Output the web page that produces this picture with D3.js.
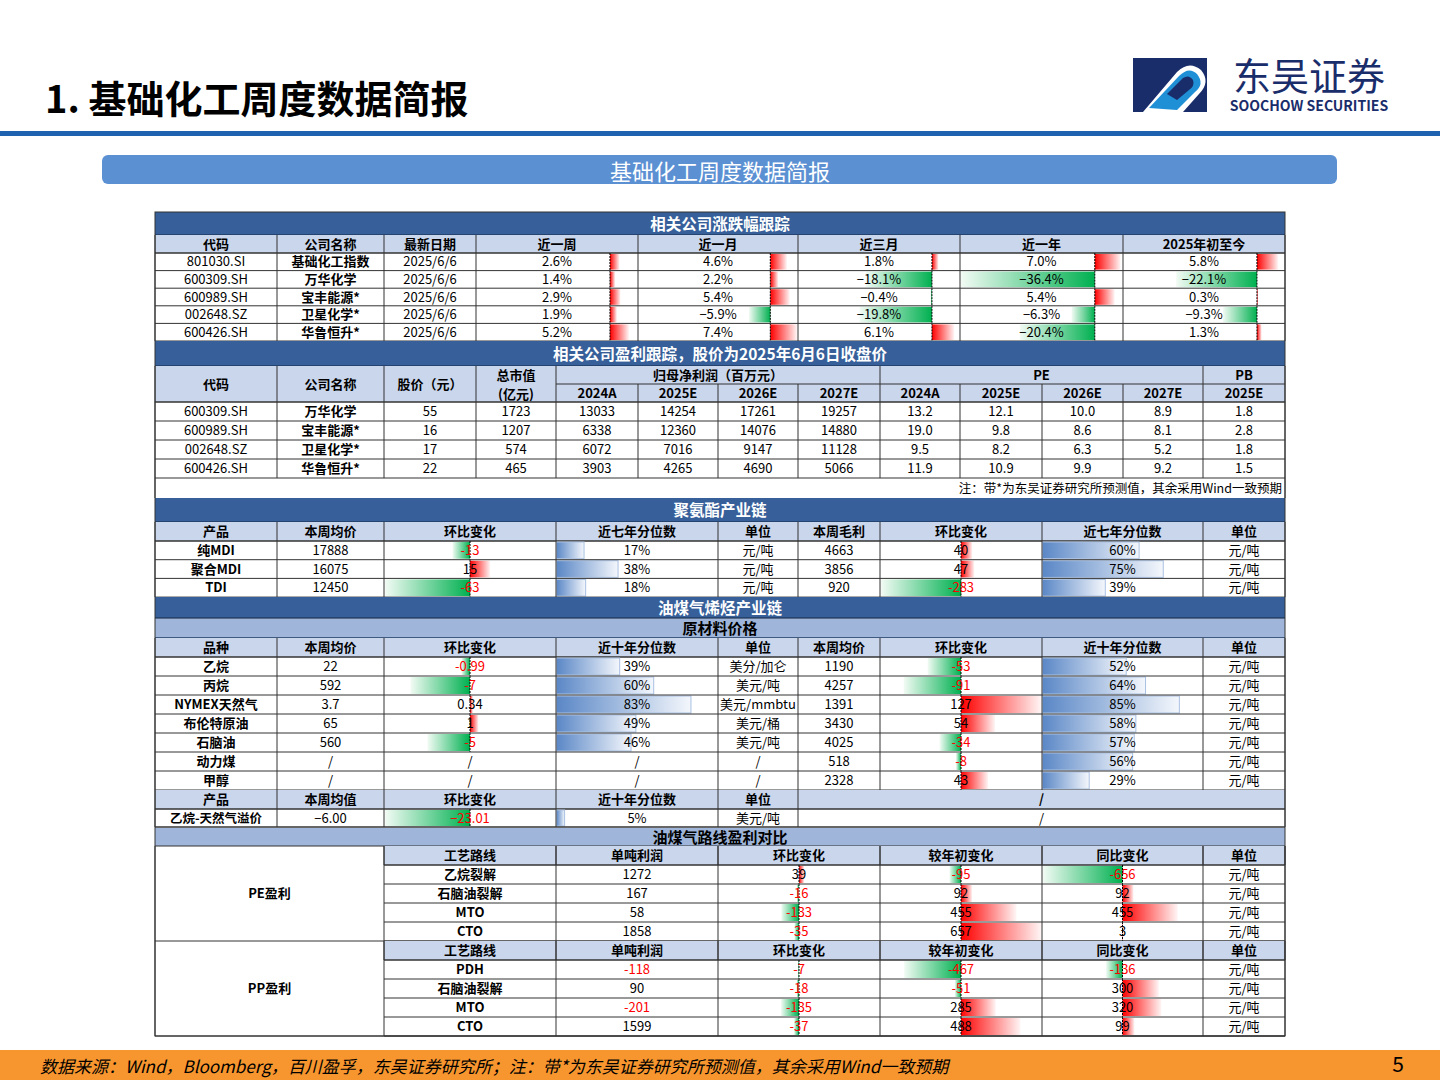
<!DOCTYPE html>
<meta charset="utf-8">
<title>基础化工周度数据简报</title>
<head>
<script src="https://cdnjs.cloudflare.com/ajax/libs/d3/7.8.5/d3.min.js"></script>
<style>
  body { margin:0; background:#fff; }
  svg text { font-family:"Noto Sans CJK SC","Noto Sans",sans-serif; }
</style>
</head>
<html>
<body>
<svg id="chart" width="1440" height="1080"></svg>
<script>
// ---- data ----
var codes1 = ["801030.SI","600309.SH","600989.SH","002648.SZ","600426.SH"];
var names1 = ["基础化工指数","万华化学","宝丰能源*","卫星化学*","华鲁恒升*"];
var chgWeek  = [2.6, 1.4, 2.9, 1.9, 5.2];
var chgMonth = [4.6, 2.2, 5.4, -5.9, 7.4];
var chg3M    = [1.8, -18.1, -0.4, -19.8, 6.1];
var chgYear  = [7.0, -36.4, 5.4, -6.3, -20.4];
var chgYtd   = [5.8, -22.1, 0.3, -9.3, 1.3];

var codes2 = ["600309.SH","600989.SH","002648.SZ","600426.SH"];
var names2 = ["万华化学","宝丰能源*","卫星化学*","华鲁恒升*"];
var price2 = [55, 16, 17, 22];
var mcap2  = [1723, 1207, 574, 465];
var np24 = [13033, 6338, 6072, 3903];
var np25 = [14254, 12360, 7016, 4265];
var np26 = [17261, 14076, 9147, 4690];
var np27 = [19257, 14880, 11128, 5066];
var pe24 = [13.2, 19.0, 9.5, 11.9];
var pe25 = [12.1, 9.8, 8.2, 10.9];
var pe26 = [10.0, 8.6, 6.3, 9.9];
var pe27 = [8.9, 8.1, 5.2, 9.2];
var pb25 = [1.8, 2.8, 1.8, 1.5];

var puProducts = ["纯MDI","聚合MDI","TDI"];
var puPrice  = [17888, 16075, 12450];
var puChg    = [-13, 15, -63];
var puPct    = [17, 38, 18];
var puMargin = [4663, 3856, 920];
var puMChg   = [40, 47, -283];
var puMPct   = [60, 75, 39];

var rawNames = ["乙烷","丙烷","NYMEX天然气","布伦特原油","石脑油","动力煤","甲醇"];
var rawPrice = ["22","592","3.7","65","560",null,null];
var rawChg   = [-0.99, -7, 0.34, 1, -5, null, null];
var rawPct   = [39, 60, 83, 49, 46, null, null];
var rawUnit  = ["美分/加仑","美元/吨","美元/mmbtu","美元/桶","美元/吨","/","/"];
var rawPrice2 = [1190, 4257, 1391, 3430, 4025, 518, 2328];
var rawChg2  = [-53, -91, 127, 54, -34, -8, 43];
var rawPct2  = [52, 64, 85, 58, 57, 56, 29];

var spreadName = "乙烷-天然气溢价", spreadVal = -6.00, spreadChg = -23.01, spreadPct = 5, spreadUnit = "美元/吨";

var peRoutes = ["乙烷裂解","石脑油裂解","MTO","CTO"];
var peProfit = [1272, 167, 58, 1858];
var peChg    = [39, -16, -133, -35];
var peYtd    = [-95, 92, 455, 657];
var peYoy    = [-656, 92, 455, 3];
var ppRoutes = ["PDH","石脑油裂解","MTO","CTO"];
var ppProfit = [-118, 90, -201, 1599];
var ppChg    = [-7, -18, -135, -37];
var ppYtd    = [-467, -51, 285, 488];
var ppYoy    = [-136, 300, 320, 99];

// ---- drawing ----
var svg = d3.select("#chart");
var DARK = "#37609a", HEAD = "#c9d6ec", MID = "#9fb6da", LINE = "#333";
var defs = svg.append("defs");
function grad(id, stops) {
  var g = defs.append("linearGradient").attr("id", id).attr("x1","0").attr("x2","1").attr("y1","0").attr("y2","0");
  stops.forEach(function(s){ g.append("stop").attr("offset", s[0]).attr("stop-color", s[1]); });
}
grad("gPos", [[0,"#ff0000"],[1,"#fff5f5"]]);
grad("gNeg", [[0,"#f2fbf4"],[1,"#00b050"]]);
grad("gBlue", [[0,"#5a87c6"],[1,"#f4f7fc"]]);

var f1 = d3.format(".1f");
function pct1(v){ return f1(v) + "%"; }

function rect(x0,x1,y0,y1,fill){
  svg.append("rect").attr("x",x0).attr("y",y0).attr("width",x1-x0).attr("height",y1-y0).attr("fill",fill);
}
function text(x,y,t,o){
  o = o || {};
  svg.append("text").attr("x",x).attr("y",y-1).attr("text-anchor",o.anchor||"middle")
    .attr("dominant-baseline","central").attr("font-size",o.size||13)
    .attr("font-weight",o.bold?"bold":"normal").attr("fill",o.color||"#000").text(t);
}
function hline(x0,x1,y,w,c){ svg.append("line").attr("x1",x0).attr("x2",x1).attr("y1",y).attr("y2",y).attr("stroke",c||LINE).attr("stroke-width",w||1); }
function vline(x,y0,y1,w,c){ svg.append("line").attr("x1",x).attr("x2",x).attr("y1",y0).attr("y2",y1).attr("stroke",c||LINE).attr("stroke-width",w||1); }

function band(y0,y1,t,fill,color){
  rect(155,1285,y0,y1,fill);
  text(720,(y0+y1)/2,t,{bold:true,size:15.5,color:color||"#fff"});
  hline(155,1285,y1,1.5,"#1f3a60");
}
function header(cols,y0,y1,labels,fill){
  rect(cols[0],cols[cols.length-1],y0,y1,fill||HEAD);
  labels.forEach(function(l,i){ if(l!==null) text((cols[i]+cols[i+1])/2,(y0+y1)/2,l,{bold:true}); });
  hline(cols[0],cols[cols.length-1],y1,1.5);
  cols.forEach(function(x){ vline(x,y0,y1); });
}
function divBars(x0,x1,ys,h,vals,domain){
  var x = d3.scaleLinear().domain(domain).range([x0+1,x1-1]).clamp(true);
  vals.forEach(function(v,i){
    if(v===null) return;
    var y = ys[i];
    var a = x(0), b = x(v);
    svg.append("rect").attr("x",Math.min(a,b)).attr("y",y+1).attr("width",Math.abs(b-a)).attr("height",h-2)
      .attr("fill", v>=0 ? "url(#gPos)" : "url(#gNeg)");
    svg.append("line").attr("x1",a).attr("x2",a).attr("y1",y).attr("y2",y+h)
      .attr("stroke","#000").attr("stroke-dasharray","2,1");
  });
}
function pctBars(x0,x1,ys,h,vals){
  var x = d3.scaleLinear().domain([0,100]).range([x0,x1]);
  vals.forEach(function(v,i){
    if(v===null) return;
    svg.append("rect").attr("x",x0+0.5).attr("y",ys[i]+1).attr("width",x(v)-x0).attr("height",h-2)
      .attr("fill","url(#gBlue)").attr("stroke","#a9c0e2");
  });
}
function symDomain(vals){ var m = d3.max(vals.filter(function(v){return v!==null;}), function(v){return Math.abs(v);}); return [-m,m]; }

// ---- page chrome ----
text(45,97,"1. 基础化工周度数据简报",{anchor:"start",size:38,bold:true});
svg.append("rect").attr("x",0).attr("y",131).attr("width",1440).attr("height",5).attr("fill","#1f63b0");
// logo
var lg = svg.append("g").attr("transform","translate(1133,58)");
lg.append("rect").attr("width",74).attr("height",54).attr("fill","#1a2d6b");
lg.append("path").attr("d","M10,54 L44,14 Q56,2 68,12 Q78,24 66,36 L50,54 Z").attr("fill","#fff");
lg.append("path").attr("d","M16,50 L46,18 Q56,8 64,16 Q72,26 62,34 L44,52 Z").attr("fill","#1f8fd6");
lg.append("path").attr("d","M34,36 L50,20 Q56,16 60,22 Q62,28 56,32 L44,42 Z").attr("fill","#1a2d6b");
text(1309,74,"东吴证券",{size:38,color:"#1a2d6b"});
text(1309,106,"SOOCHOW SECURITIES",{size:14,bold:true,color:"#1a2d6b"});
svg.append("rect").attr("x",102).attr("y",155).attr("width",1235).attr("height",29).attr("rx",6).attr("fill","#5b90d3");
text(720,171,"基础化工周度数据简报",{size:22,color:"#fff"});
svg.append("rect").attr("x",0).attr("y",1050).attr("width",1440).attr("height",30).attr("fill","#f7962f");
svg.append("text").attr("x",40).attr("y",1065).attr("dominant-baseline","central").attr("font-size",17)
  .attr("font-style","italic").text("数据来源：Wind，Bloomberg，百川盈孚，东吴证券研究所；注：带*为东吴证券研究所预测值，其余采用Wind一致预期");
text(1398,1064,"5",{size:21});

// ---- section 1 ----
var c1 = [155,277,384,476,638,798,960,1123,1285];
band(212,235,"相关公司涨跌幅跟踪",DARK);
header(c1,235,253,["代码","公司名称","最新日期","近一周","近一月","近三月","近一年","2025年初至今"]);
var rh1 = 17.6, ys1 = d3.range(5).map(function(i){ return 253+i*rh1; });
var all1 = [].concat(chgWeek,chgMonth,chg3M,chgYear,chgYtd);
var dom1 = [d3.min(all1), d3.max(all1)];
[chgWeek,chgMonth,chg3M,chgYear,chgYtd].forEach(function(arr,k){
  divBars(c1[3+k],c1[4+k],ys1,rh1,arr,dom1);
});
ys1.forEach(function(y,i){
  var cy = y+rh1/2;
  text((c1[0]+c1[1])/2,cy,codes1[i]);
  text((c1[1]+c1[2])/2,cy,names1[i],{bold:true});
  text((c1[2]+c1[3])/2,cy,"2025/6/6");
  [chgWeek,chgMonth,chg3M,chgYear,chgYtd].forEach(function(arr,k){ text((c1[3+k]+c1[4+k])/2,cy,pct1(arr[i])); });
  hline(155,1285,y+rh1,1);
});
c1.forEach(function(x){ vline(x,253,341); });

// ---- section 2 ----
var c2 = [155,277,384,476,556,638,718,798,880,960,1042,1123,1203,1285];
band(341,366,"相关公司盈利跟踪，股价为2025年6月6日收盘价",DARK);
rect(155,1285,366,402,HEAD);
[["代码",0,1],["公司名称",1,2],["股价（元）",2,3]].forEach(function(h){ text((c2[h[1]]+c2[h[2]])/2,384,h[0],{bold:true}); });
text((c2[3]+c2[4])/2,375,"总市值",{bold:true}); text((c2[3]+c2[4])/2,394,"(亿元)",{bold:true});
text((c2[4]+c2[8])/2,375,"归母净利润（百万元）",{bold:true});
text((c2[8]+c2[12])/2,375,"PE",{bold:true});
text((c2[12]+c2[13])/2,375,"PB",{bold:true});
var sub2 = ["2024A","2025E","2026E","2027E","2024A","2025E","2026E","2027E","2025E"];
sub2.forEach(function(s,k){ text((c2[4+k]+c2[5+k])/2,393,s,{bold:true}); });
hline(c2[4],1285,384,1);
hline(155,1285,402,1.5);
var rh2 = 19, ys2 = d3.range(4).map(function(i){ return 402+i*rh2; });
ys2.forEach(function(y,i){
  var cy = y+rh2/2;
  var row = [codes2[i],names2[i],price2[i],mcap2[i],np24[i],np25[i],np26[i],np27[i],
             f1(pe24[i]),f1(pe25[i]),f1(pe26[i]),f1(pe27[i]),f1(pb25[i])];
  row.forEach(function(v,k){ text((c2[k]+c2[k+1])/2,cy,v,{bold:k===1}); });
  hline(155,1285,y+rh2,1);
});
c2.forEach(function(x,k){
  var top = (k===5||k===6||k===7||k===9||k===10||k===11) ? 384 : 366;
  vline(x,top,478);
});
vline(1285,478,498); vline(155,478,498);
text(1282,488,"注：带*为东吴证券研究所预测值，其余采用Wind一致预期",{anchor:"end",size:12.5});

// ---- section 3: PU ----
var c3 = [155,277,384,556,718,798,880,1042,1203,1285];
band(498,522,"聚氨酯产业链",DARK);
header(c3,522,541,["产品","本周均价","环比变化","近七年分位数","单位","本周毛利","环比变化","近七年分位数","单位"]);
var rh3 = 18.7, ys3 = d3.range(3).map(function(i){ return 541+i*rh3; });
divBars(c3[2],c3[3],ys3,rh3,puChg,symDomain(puChg));
divBars(c3[6],c3[7],ys3,rh3,puMChg,symDomain(puMChg));
pctBars(c3[3],c3[4],ys3,rh3,puPct);
pctBars(c3[7],c3[8],ys3,rh3,puMPct);
ys3.forEach(function(y,i){
  var cy = y+rh3/2;
  text((c3[0]+c3[1])/2,cy,puProducts[i],{bold:true});
  text((c3[1]+c3[2])/2,cy,puPrice[i]);
  text((c3[2]+c3[3])/2,cy,puChg[i],{color:puChg[i]<0?"#f00":"#000"});
  text((c3[3]+c3[4])/2,cy,puPct[i]+"%");
  text((c3[4]+c3[5])/2,cy,"元/吨");
  text((c3[5]+c3[6])/2,cy,puMargin[i]);
  text((c3[6]+c3[7])/2,cy,puMChg[i],{color:puMChg[i]<0?"#f00":"#000"});
  text((c3[7]+c3[8])/2,cy,puMPct[i]+"%");
  text((c3[8]+c3[9])/2,cy,"元/吨");
  hline(155,1285,y+rh3,1);
});
c3.forEach(function(x){ vline(x,541,597); });

// ---- section 4: raw materials ----
band(597,618,"油煤气烯烃产业链",DARK);
rect(155,1285,619,638,MID);
text(720,628.5,"原材料价格",{bold:true,size:15});
hline(155,1285,638,1.5,"#1f3a60");
header(c3,638,657,["品种","本周均价","环比变化","近十年分位数","单位","本周均价","环比变化","近十年分位数","单位"]);
var rh4 = 19, ys4 = d3.range(7).map(function(i){ return 657+i*rh4; });
divBars(c3[2],c3[3],ys4,rh4,rawChg,[-10,10]);
divBars(c3[6],c3[7],ys4,rh4,rawChg2,symDomain(rawChg2));
pctBars(c3[3],c3[4],ys4,rh4,rawPct);
pctBars(c3[7],c3[8],ys4,rh4,rawPct2);
ys4.forEach(function(y,i){
  var cy = y+rh4/2;
  text((c3[0]+c3[1])/2,cy,rawNames[i],{bold:true});
  text((c3[1]+c3[2])/2,cy,rawPrice[i]===null?"/":rawPrice[i]);
  text((c3[2]+c3[3])/2,cy,rawChg[i]===null?"/":String(rawChg[i]),{color:rawChg[i]<0?"#f00":"#000"});
  text((c3[3]+c3[4])/2,cy,rawPct[i]===null?"/":rawPct[i]+"%");
  text((c3[4]+c3[5])/2,cy,rawUnit[i]);
  text((c3[5]+c3[6])/2,cy,rawPrice2[i]);
  text((c3[6]+c3[7])/2,cy,rawChg2[i],{color:rawChg2[i]<0?"#f00":"#000"});
  text((c3[7]+c3[8])/2,cy,rawPct2[i]+"%");
  text((c3[8]+c3[9])/2,cy,"元/吨");
  hline(155,1285,y+rh4,1);
});
c3.forEach(function(x){ vline(x,657,790); });
var c5 = [155,277,384,556,718,798,1285];
header(c5,790,809,["产品","本周均值","环比变化","近十年分位数","单位","/"]);
divBars(c5[2],c5[3],[809],18,[spreadChg],[-23.01,23.01]);
pctBars(c5[3],c5[4],[809],18,[spreadPct]);
text((c5[0]+c5[1])/2,818,spreadName,{bold:true,size:12.5});
text((c5[1]+c5[2])/2,818,d3.format(".2f")(spreadVal));
text((c5[2]+c5[3])/2,818,d3.format(".2f")(spreadChg),{color:"#f00"});
text((c5[3]+c5[4])/2,818,spreadPct+"%");
text((c5[4]+c5[5])/2,818,spreadUnit);
text((c5[5]+c5[6])/2,818,"/");
c5.forEach(function(x){ vline(x,809,827); });
hline(155,1285,827,1.5);

// ---- section 5: route profits ----
rect(155,1285,828,846,MID);
text(720,837,"油煤气路线盈利对比",{bold:true,size:15});
hline(155,1285,846,1);
var c6 = [155,384,556,718,880,1042,1203,1285];
var ytdDom = symDomain([].concat(peYtd,ppYtd)), yoyDom = symDomain([].concat(peYoy,ppYoy));
var chgDom = [-600,600];
function profitBlock(y0,label,routes,profit,chg,ytd,yoy){
  header(c6.slice(1),y0,y0+19,["工艺路线","单吨利润","环比变化","较年初变化","同比变化","单位"]);
  var ys = d3.range(4).map(function(i){ return y0+19+i*19; });
  divBars(c6[3],c6[4],ys,19,chg,chgDom);
  divBars(c6[4],c6[5],ys,19,ytd,ytdDom);
  divBars(c6[5],c6[6],ys,19,yoy,yoyDom);
  ys.forEach(function(y,i){
    var cy = y+9.5;
    text((c6[1]+c6[2])/2,cy,routes[i],{bold:true});
    text((c6[2]+c6[3])/2,cy,profit[i],{color:profit[i]<0?"#f00":"#000"});
    text((c6[3]+c6[4])/2,cy,chg[i],{color:chg[i]<0?"#f00":"#000"});
    text((c6[4]+c6[5])/2,cy,ytd[i],{color:ytd[i]<0?"#f00":"#000"});
    text((c6[5]+c6[6])/2,cy,yoy[i],{color:yoy[i]<0?"#f00":"#000"});
    text((c6[6]+c6[7])/2,cy,"元/吨");
    hline(384,1285,y+19,1);
  });
  c6.forEach(function(x){ vline(x,y0,y0+95); });
  text((c6[0]+c6[1])/2,y0+47,label,{bold:true});
  hline(155,1285,y0+95,1);
}
profitBlock(846,"PE盈利",peRoutes,peProfit,peChg,peYtd,peYoy);
profitBlock(941,"PP盈利",ppRoutes,ppProfit,ppChg,ppYtd,ppYoy);

svg.append("rect").attr("x",155).attr("y",212).attr("width",1130).attr("height",1036-212)
  .attr("fill","none").attr("stroke",LINE).attr("stroke-width",1);
</script>
</body>
</html>
